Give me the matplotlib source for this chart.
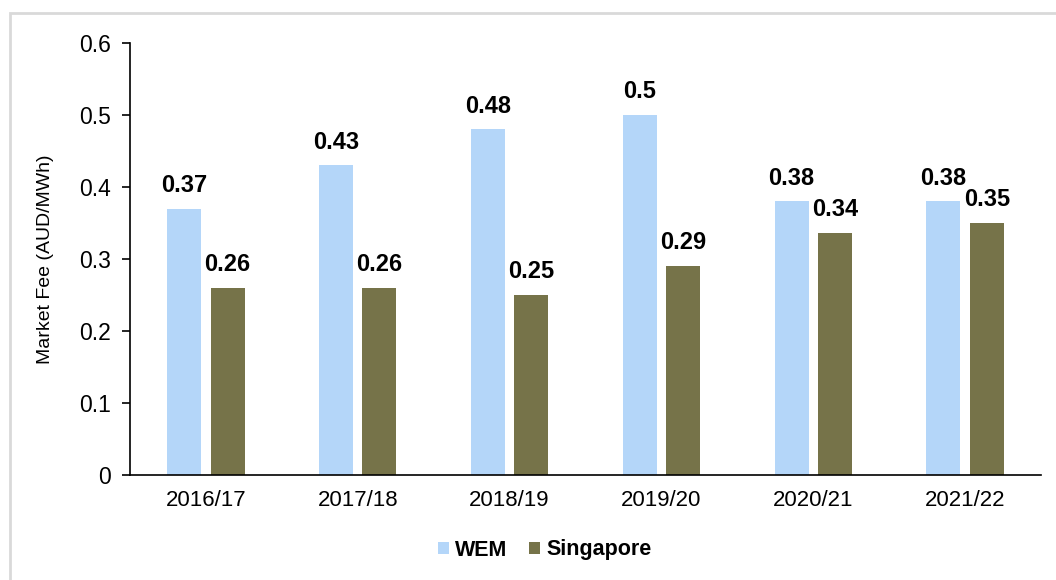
import matplotlib.pyplot as plt
import numpy as np
from matplotlib.patches import Rectangle

plt.rcParams['font.family'] = ['Liberation Sans', 'DejaVu Sans']

years = ['2016/17', '2017/18', '2018/19', '2019/20', '2020/21', '2021/22']
wem = [0.37, 0.43, 0.48, 0.50, 0.38, 0.38]
singapore = [0.26, 0.26, 0.25, 0.29, 0.336, 0.35]
wem_labels = ['0.37', '0.43', '0.48', '0.5', '0.38', '0.38']
sg_labels = ['0.26', '0.26', '0.25', '0.29', '0.34', '0.35']

c_wem = '#b4d6f9'
c_sg = '#767349'


def main():
	fig = plt.figure(figsize=(10.56, 5.8), dpi=100)
	ax = fig.add_axes([0.1231, 0.181, 0.8627, 0.7449])

	x = np.arange(len(years))
	w = 0.224
	off = 0.143
	b1 = ax.bar(x - off, wem, w, color=c_wem, label='WEM')
	b2 = ax.bar(x + off, singapore, w, color=c_sg, label='Singapore')

	for bars, labs in ((b1, wem_labels), (b2, sg_labels)):
		for b, t in zip(bars, labs):
			ax.annotate(t, (b.get_x() + b.get_width() / 2, b.get_height()),
				xytext=(0, 8.5), textcoords='offset points', ha='center', va='bottom',
				fontsize=17, fontweight='bold')

	ax.set_xlim(-0.5, len(years) - 0.5)
	ax.set_ylim(0, 0.6)
	ax.set_yticks(np.arange(0, 0.61, 0.1))
	ax.set_yticklabels(['0', '0.1', '0.2', '0.3', '0.4', '0.5', '0.6'])
	ax.set_xticks(x)
	ax.set_xticklabels(years)
	ax.tick_params(axis='y', labelsize=16.5, length=6, width=1.2, pad=8)
	ax.tick_params(axis='x', labelsize=16, length=0, pad=11)
	ax.spines['top'].set_visible(False)
	ax.spines['right'].set_visible(False)
	ax.spines['left'].set_linewidth(1.2)
	ax.spines['bottom'].set_linewidth(1.2)
	ax.set_ylabel('Market Fee (AUD/MWh)', fontsize=14, labelpad=18)

	fig.legend(handles=[b1, b2], loc='center', bbox_to_anchor=(545 / 1056, 1 - 550 / 580),
		ncol=2, frameon=False, handlelength=0.5, handleheight=0.5, handletextpad=0.3,
		columnspacing=1.0, prop={'weight': 'bold', 'size': 15.5})

	fig.patches.append(Rectangle((10 / 1056, -0.1), 1.2, 1 - 13 / 580 + 0.1,
		transform=fig.transFigure, fill=False, edgecolor='#d9d9d9', linewidth=2))

	fig.savefig('out.png', dpi=100)


if __name__ == "__main__":
	main()
